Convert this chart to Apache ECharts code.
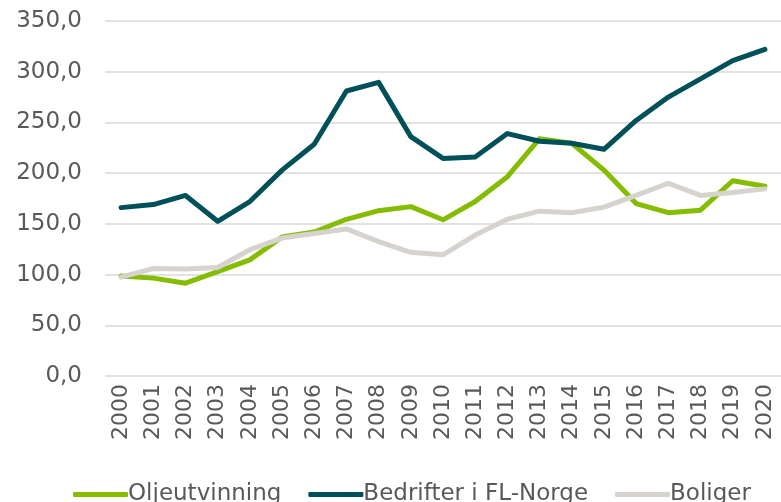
<!DOCTYPE html>
<html><head><meta charset="utf-8">
<script src="https://cdn.jsdelivr.net/npm/echarts@6/dist/echarts.min.js"></script>
<style>html,body{margin:0;padding:0;background:#fff}#c{width:781px;height:502px}</style>
</head><body><div id="c"></div>
<script>
const years = ['2000','2001','2002','2003','2004','2005','2006','2007','2008','2009','2010','2011','2012','2013','2014','2015','2016','2017','2018','2019','2020'];
const oljeutvinning = [98.7,96.5,91.5,103,114.5,137,142,154.5,163,167,154,172,196.5,234,229.5,203,170,161,163.5,192.5,187];
const bedrifter = [166,169,178,152.5,172,203,228.5,281,289.5,236,214.5,216,239,231.5,229.5,223.5,252,275,293,311,322];
const boliger = [97.5,106,105.5,107,124.5,136,140.5,145,132.5,122,119.5,139,154.5,162.5,161,166.5,178,190,178,181,184.5];
const seriesNames = ['Oljeutvinning','Bedrifter i FL-Norge','Boliger'];
const colors = ['#84bd00','#00505a','#d6d2ce'];
const yMin = 0, yMax = 350, yStep = 50;

const chart = echarts.init(document.getElementById('c'), null, {renderer:'canvas'});
const font = 'DejaVu Sans';
const mk = (name, data, color) => ({
  name, type:'line', data, showSymbol:false, symbol:'none',
  lineStyle:{color, width:5, cap:'round', join:'round'},
  itemStyle:{color}
});
chart.setOption({
  animation:false,
  grid:{left:105, top:21, width:681, bottom:126, containLabel:false},
  legend:{
    data:seriesNames, left:68, top:478, itemWidth:55, itemHeight:5, itemGap:27,
    icon:'roundRect',
    textStyle:{fontFamily:font, fontSize:23, color:'#595959', padding:[0,0,0,-5]}
  },
  xAxis:{
    type:'category', data:years, boundaryGap:true,
    axisLine:{show:false}, axisTick:{show:false},
    axisLabel:{rotate:90, fontFamily:font, fontSize:22, color:'#595959', margin:8, interval:0}
  },
  yAxis:{
    type:'value', min:yMin, max:yMax, interval:yStep,
    axisLine:{show:false}, axisTick:{show:false},
    splitLine:{lineStyle:{color:'#d9d9d9', width:1.5}},
    axisLabel:{fontFamily:font, fontSize:23, color:'#595959', margin:23,
      formatter:v=>v.toFixed(1).replace('.',',')}
  },
  series:[mk(seriesNames[0], oljeutvinning, colors[0]), mk(seriesNames[1], bedrifter, colors[1]), mk(seriesNames[2], boliger, colors[2])]
});
</script></body></html>
